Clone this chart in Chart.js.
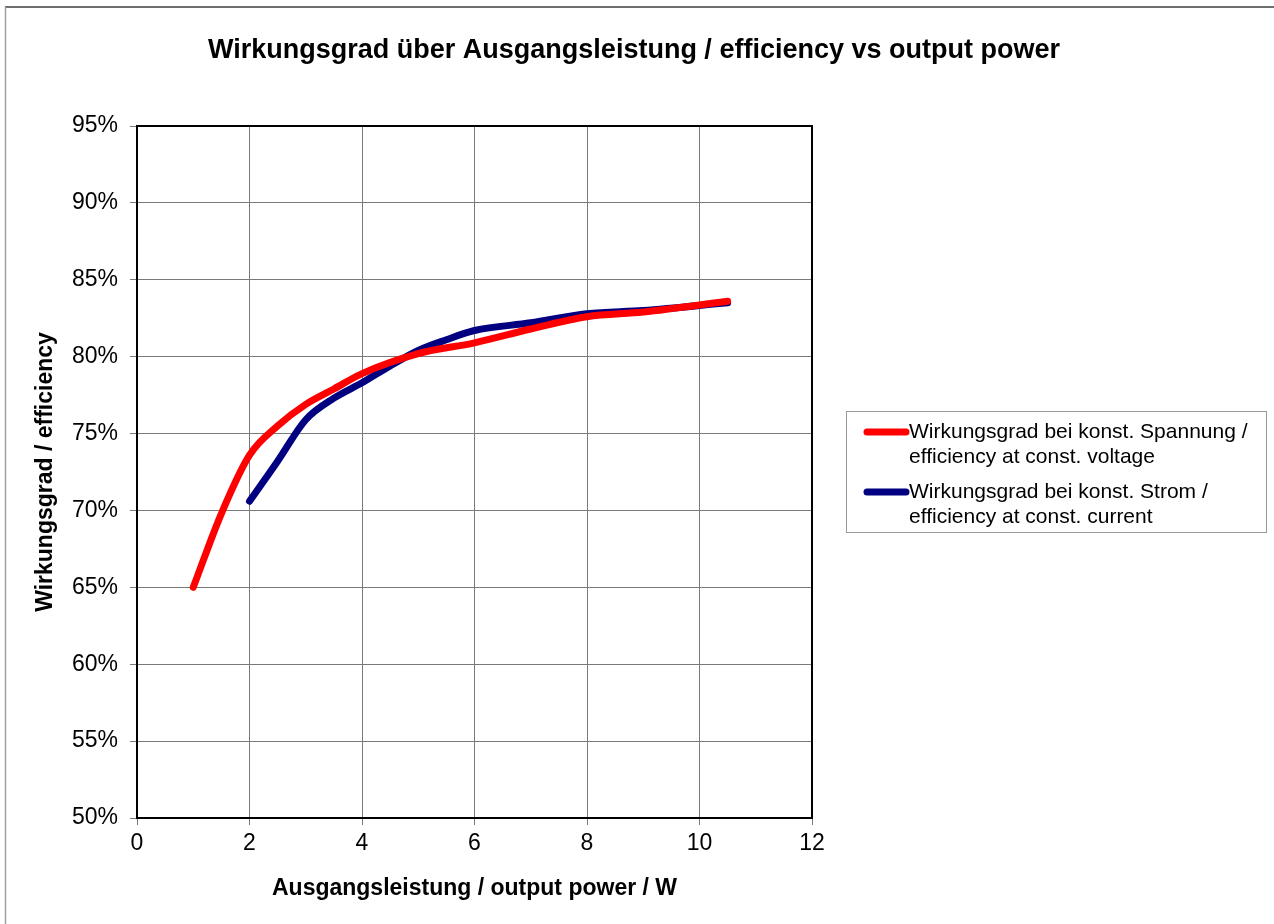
<!DOCTYPE html>
<html>
<head>
<meta charset="utf-8">
<script src="https://cdn.jsdelivr.net/npm/chart.js@4.4.1/dist/chart.umd.min.js"></script>
<style>
  html, body { margin: 0; padding: 0; background: #fff; }
  #wrap { width: 1274px; height: 924px; position: relative; }
</style>
</head>
<body>
<div id="wrap"><canvas id="chart" width="1274" height="924"></canvas></div>
<script>
// values
const voltagePower = [1, 1.5, 2, 2.5, 3, 3.5, 4, 5, 6, 7, 8, 9, 10.5];
const voltageEff   = [65.0, 69.8, 73.6, 75.5, 76.9, 77.9, 78.9, 80.2, 80.9, 81.8, 82.6, 82.9, 83.6];
const currentPower = [2, 2.5, 3, 3.5, 4, 4.5, 5, 5.5, 6, 7, 8, 9, 10.5];
const currentEff   = [70.6, 73.2, 75.9, 77.3, 78.3, 79.4, 80.4, 81.1, 81.7, 82.2, 82.8, 83.0, 83.5];

const seriesLabels = [
  ['Wirkungsgrad bei konst. Spannung /', 'efficiency at const. voltage'],
  ['Wirkungsgrad bei konst. Strom /', 'efficiency at const. current']
];
const xTicks = [0, 2, 4, 6, 8, 10, 12];
const yTicks = [50, 55, 60, 65, 70, 75, 80, 85, 90, 95];
const chartTitle = 'Wirkungsgrad über Ausgangsleistung / efficiency vs output power';

const font = "'Liberation Sans', Arial, sans-serif";

const toPoints = (xs, ys) => xs.map((x, i) => ({x: x, y: ys[i]}));

// title, frame round the plot area, outer picture edge, and the boxed legend
const framePlugin = {
  id: 'frame',
  beforeDraw(chart) {
    const c = chart.ctx;
    c.save();
    c.fillStyle = '#fff';
    c.fillRect(0, 0, chart.width, chart.height);
    c.strokeStyle = '#6e6e6e';
    c.lineWidth = 2;
    c.beginPath();
    c.moveTo(5, 7); c.lineTo(chart.width, 7);
    c.stroke();
    c.strokeStyle = '#a0a0a0';
    c.lineWidth = 1.5;
    c.beginPath();
    c.moveTo(5.5, 7); c.lineTo(5.5, chart.height);
    c.stroke();

    c.fillStyle = '#000';
    c.font = 'bold 27px ' + font;
    c.textAlign = 'center';
    c.textBaseline = 'middle';
    c.fillText(chartTitle, 634, 51);
    c.restore();
  },
  afterDatasetsDraw(chart) {
    const a = chart.chartArea;
    const c = chart.ctx;
    c.save();
    c.strokeStyle = '#000';
    c.lineWidth = 2;
    c.strokeRect(a.left, a.top, a.right - a.left, a.bottom - a.top);

    // legend
    const lx = a.right + 34, ly = 411, lw = 420, lh = 121;
    c.strokeStyle = '#999';
    c.lineWidth = 1;
    c.strokeRect(lx + 0.5, ly + 0.5, lw, lh);
    c.font = '21px ' + font;
    c.fillStyle = '#000';
    c.textBaseline = 'middle';
    chart.data.datasets.forEach((ds, i) => {
      const y0 = ly + 21 + i * 60;
      c.strokeStyle = ds.borderColor;
      c.lineWidth = 7;
      c.lineCap = 'round';
      c.beginPath();
      c.moveTo(lx + 21, y0); c.lineTo(lx + 60, y0);
      c.stroke();
      seriesLabels[i].forEach((t, j) => {
        c.fillText(t, lx + 63, y0 + j * 25);
      });
    });
    c.restore();
  }
};

new Chart(document.getElementById('chart'), {
  type: 'line',
  plugins: [framePlugin],
  data: {
    datasets: [{
      label: seriesLabels[0].join(' '),
      data: toPoints(voltagePower, voltageEff),
      borderColor: '#ff0000',
      borderWidth: 7,
      borderCapStyle: 'round',
      pointRadius: 0,
      cubicInterpolationMode: 'monotone',
      fill: false
    }, {
      label: seriesLabels[1].join(' '),
      data: toPoints(currentPower, currentEff),
      borderColor: '#000080',
      borderWidth: 7,
      borderCapStyle: 'round',
      pointRadius: 0,
      cubicInterpolationMode: 'monotone',
      fill: false
    }]
  },
  options: {
    responsive: false,
    animation: false,
    layout: { padding: { left: 28, right: 462, top: 126, bottom: 18 } },
    plugins: {
      legend: { display: false },
      tooltip: { enabled: false },
      title: { display: false }
    },
    scales: {
      x: {
        type: 'linear',
        min: 0, max: 12,
        afterBuildTicks: s => { s.ticks = xTicks.map(v => ({value: v})); },
        afterFit: s => { s.height = 88; },
        grid: { color: '#7a7a7a', lineWidth: 1, tickLength: 7, drawTicks: true },
        border: { display: false },
        ticks: { color: '#000', font: { family: font, size: 23 }, padding: 5 },
        title: {
          display: true,
          text: 'Ausgangsleistung / output power / W',
          color: '#000',
          font: { family: font, size: 23, weight: 'bold' },
          padding: { top: 4, bottom: 4 }
        }
      },
      y: {
        min: 50, max: 95,
        afterBuildTicks: s => { s.ticks = yTicks.map(v => ({value: v})); },
        afterFit: s => { s.width = 137 - 28; },
        grid: { color: '#7a7a7a', lineWidth: 1, tickLength: 7, drawTicks: true },
        border: { display: false },
        ticks: { color: '#000', font: { family: font, size: 23 }, padding: 12,
                 callback: v => v + '%' },
        title: {
          display: true,
          text: 'Wirkungsgrad / efficiency',
          color: '#000',
          font: { family: font, size: 23, weight: 'bold' },
          padding: { top: 4, bottom: 4 }
        }
      }
    }
  }
});
</script>
</body>
</html>
